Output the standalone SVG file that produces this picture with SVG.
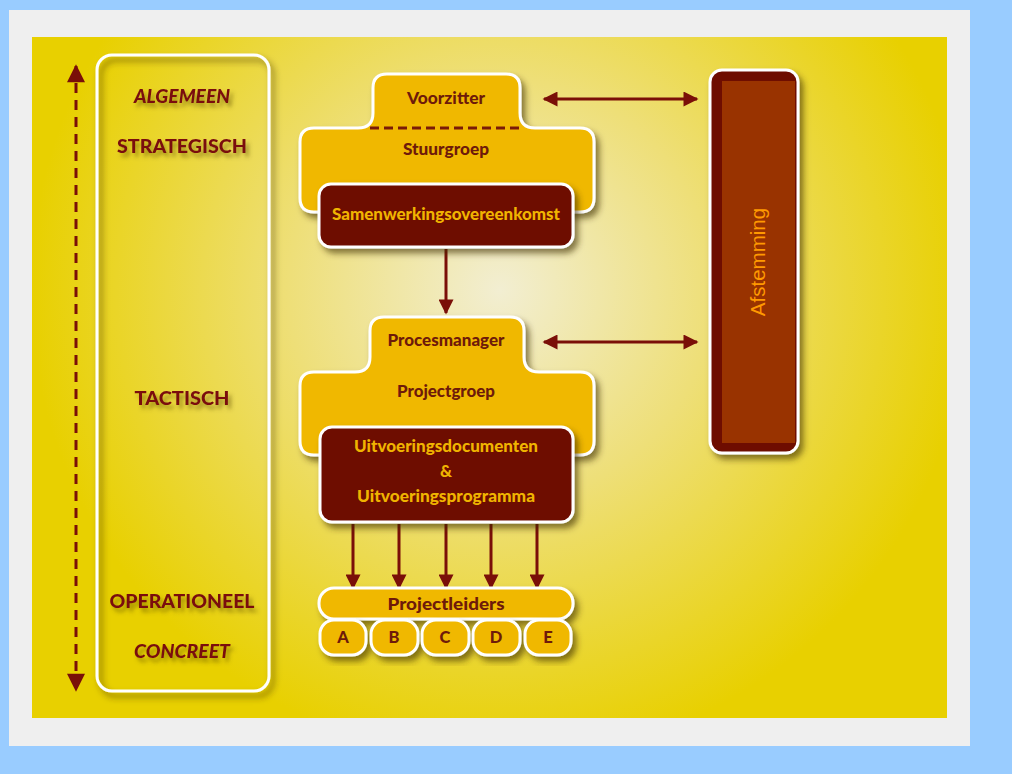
<svg xmlns="http://www.w3.org/2000/svg" width="1012" height="774" viewBox="0 0 1012 774">
<defs>
<radialGradient id="bg" cx="500" cy="290" r="470" gradientUnits="userSpaceOnUse">
<stop offset="0" stop-color="#f2eed2"/>
<stop offset="0.45" stop-color="#eedf78"/>
<stop offset="1" stop-color="#e8d000"/>
</radialGradient>
<filter id="sh" x="-20%" y="-20%" width="150%" height="150%">
<feDropShadow dx="4" dy="5" stdDeviation="3" flood-color="#3a2a00" flood-opacity="0.6"/>
</filter>
<filter id="tsh" x="-20%" y="-50%" width="150%" height="250%">
<feDropShadow dx="3" dy="4" stdDeviation="2" flood-color="#5a4a00" flood-opacity="0.55"/>
</filter>
<marker id="ah" viewBox="0 0 10 10" refX="9" refY="5" markerWidth="5.5" markerHeight="5" orient="auto-start-reverse" markerUnits="strokeWidth">
<path d="M0,0 L10,5 L0,10 Z" fill="#7a0f08"/>
</marker>
<marker id="ah2" viewBox="0 0 10 10" refX="9" refY="5" markerWidth="7" markerHeight="6" orient="auto-start-reverse" markerUnits="strokeWidth">
<path d="M0,0 L10,5 L0,10 Z" fill="#7a0f08"/>
</marker>
</defs>
<style>
.lbl{font-family:"Lato","DejaVu Sans",sans-serif;font-weight:900;font-size:19px;fill:#7a1010;text-anchor:middle;}
.it{font-style:italic;}
.nt{font-family:"Lato","DejaVu Sans",sans-serif;font-weight:900;font-size:16.5px;fill:#6e1a0a;text-anchor:middle;}
.yt{font-family:"Lato","DejaVu Sans",sans-serif;font-weight:900;font-size:16.5px;fill:#f0b400;text-anchor:middle;}
.yel{fill:#f0b800;stroke:#ffffff;stroke-width:3;}
.red{fill:#6e0e05;stroke:#ffffff;stroke-width:3;}
.con{stroke:#7a0f08;stroke-width:3;fill:none;}
</style>
<rect x="0" y="0" width="1012" height="774" fill="#99ccff"/>
<rect x="9" y="10" width="961" height="736" fill="#efefef"/>
<rect x="32" y="37" width="915" height="681" fill="url(#bg)"/>

<g id="levels">
<rect x="97" y="55" width="172" height="636" rx="15" fill="none" stroke="#ffffff" stroke-width="3" filter="url(#sh)"/>
<g filter="url(#tsh)">
<text class="lbl it" x="182" y="103" textLength="96" lengthAdjust="spacingAndGlyphs">ALGEMEEN</text>
<text class="lbl" x="182" y="153" textLength="130" lengthAdjust="spacingAndGlyphs">STRATEGISCH</text>
<text class="lbl" x="182" y="405" textLength="95" lengthAdjust="spacingAndGlyphs">TACTISCH</text>
<text class="lbl" x="182" y="608" textLength="145" lengthAdjust="spacingAndGlyphs">OPERATIONEEL</text>
<text class="lbl it" x="182" y="658" textLength="96" lengthAdjust="spacingAndGlyphs">CONCREET</text>
</g>
</g>

<g id="connectors">
<line class="con" x1="76" y1="66" x2="76" y2="690" stroke-dasharray="10,7" marker-start="url(#ah2)" marker-end="url(#ah2)"/>
<line class="con" x1="544" y1="99" x2="697" y2="99" marker-start="url(#ah)" marker-end="url(#ah)"/>
<line class="con" x1="544" y1="342" x2="697" y2="342" marker-start="url(#ah)" marker-end="url(#ah)"/>
<line class="con" x1="446" y1="249" x2="446" y2="313" marker-end="url(#ah)"/>
<line class="con" x1="353" y1="524" x2="353" y2="588" marker-end="url(#ah)"/>
<line class="con" x1="399" y1="524" x2="399" y2="588" marker-end="url(#ah)"/>
<line class="con" x1="446" y1="524" x2="446" y2="588" marker-end="url(#ah)"/>
<line class="con" x1="491" y1="524" x2="491" y2="588" marker-end="url(#ah)"/>
<line class="con" x1="537" y1="524" x2="537" y2="588" marker-end="url(#ah)"/>
</g>

<g id="stuurgroep">
<path class="yel" filter="url(#sh)" d="M300,142 Q300,128 314,128 L358,128 Q373,128 373,113 L373,88 Q373,74 387,74 L506,74 Q520,74 520,88 L520,113 Q520,128 535,128 L580,128 Q594,128 594,142 L594,198 Q594,212 580,212 L314,212 Q300,212 300,198 Z"/>
<line x1="370" y1="128" x2="523" y2="128" stroke="#7a1a08" stroke-width="3" stroke-dasharray="9,5"/>
<text class="nt" x="446" y="104" textLength="78" lengthAdjust="spacingAndGlyphs">Voorzitter</text>
<text class="nt" x="446" y="155" textLength="86" lengthAdjust="spacingAndGlyphs">Stuurgroep</text>
</g>

<g id="samenwerking">
<rect class="red" x="319" y="184" width="254" height="63" rx="12" filter="url(#sh)"/>
<text class="yt" x="446" y="220" textLength="228" lengthAdjust="spacingAndGlyphs">Samenwerkingsovereenkomst</text>
</g>

<g id="projectgroep">
<path class="yel" filter="url(#sh)" d="M300,386 Q300,372 314,372 L355,372 Q370,372 370,357 L370,331 Q370,317 384,317 L510,317 Q524,317 524,331 L524,357 Q524,372 539,372 L580,372 Q594,372 594,386 L594,441 Q594,455 580,455 L314,455 Q300,455 300,441 Z"/>
<text class="nt" x="446" y="346" textLength="117" lengthAdjust="spacingAndGlyphs">Procesmanager</text>
<text class="nt" x="446" y="397" textLength="98" lengthAdjust="spacingAndGlyphs">Projectgroep</text>
</g>

<g id="uitvoering">
<rect class="red" x="320" y="427" width="253" height="95" rx="12" filter="url(#sh)"/>
<text class="yt" x="446" y="452" textLength="184" lengthAdjust="spacingAndGlyphs">Uitvoeringsdocumenten</text>
<text class="yt" x="446" y="477">&amp;</text>
<text class="yt" x="446" y="502" textLength="178" lengthAdjust="spacingAndGlyphs">Uitvoeringsprogramma</text>
</g>

<g id="projectleiders">
<rect class="yel" x="319" y="588" width="254" height="31" rx="15" filter="url(#sh)"/>
<text class="nt" x="446" y="610" textLength="117" lengthAdjust="spacingAndGlyphs">Projectleiders</text>
</g>
<g id="pl-a"><rect class="yel" x="320" y="620" width="46" height="35" rx="14" filter="url(#sh)"/><text class="nt" x="343" y="643">A</text></g>
<g id="pl-b"><rect class="yel" x="371" y="620" width="47" height="35" rx="14" filter="url(#sh)"/><text class="nt" x="394" y="643">B</text></g>
<g id="pl-c"><rect class="yel" x="422" y="620" width="47" height="35" rx="14" filter="url(#sh)"/><text class="nt" x="445" y="643">C</text></g>
<g id="pl-d"><rect class="yel" x="473" y="620" width="47" height="35" rx="14" filter="url(#sh)"/><text class="nt" x="496" y="643">D</text></g>
<g id="pl-e"><rect class="yel" x="525" y="620" width="46" height="35" rx="14" filter="url(#sh)"/><text class="nt" x="548" y="643">E</text></g>

<g id="afstemming">
<rect class="red" x="710" y="70" width="88" height="383" rx="12" filter="url(#sh)"/>
<rect x="722" y="81" width="73" height="362" fill="#993300"/>
<text x="760" y="262" transform="rotate(-90 760 262)" font-family="'Liberation Sans',Arial,sans-serif" font-size="20.5" fill="#ff9900" text-anchor="middle" dominant-baseline="middle">Afstemming</text>
</g>
</svg>
